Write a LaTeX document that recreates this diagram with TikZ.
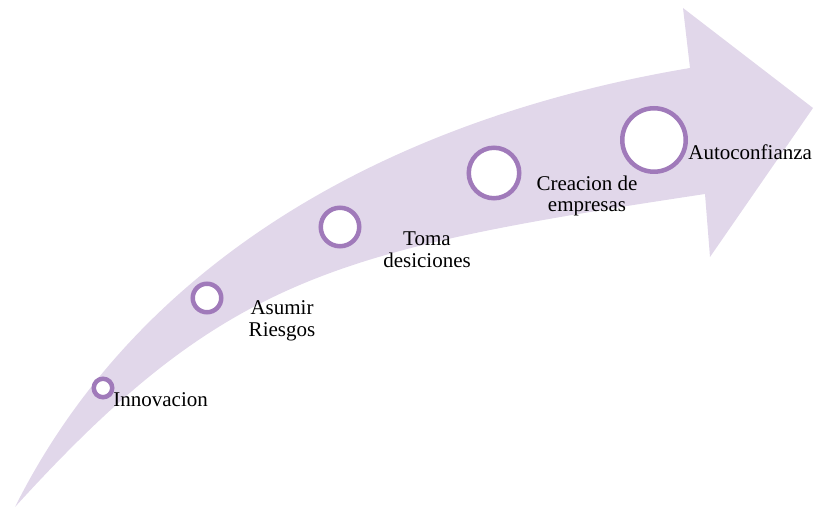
\documentclass[tikz,border=0pt]{standalone}
\usepackage{fontspec}
\setmainfont{Liberation Serif}
\usepackage{tikz}
\definecolor{bandfill}{RGB}{225,215,234}
\definecolor{ringline}{RGB}{160,122,186}

\begin{document}
\begin{tikzpicture}[x=0.5pt, y=-0.5pt,
    ring/.style={shape=circle, draw=ringline, line width=2.25pt, fill=white, inner sep=0pt},
    lbl/.style={align=center, inner sep=0pt, font=\fontsize{10.5}{10.8}\selectfont}]
        \useasboundingbox (0,0) rectangle (815,507);

        \fill[bandfill] (15,507) .. controls (135,267) and (380,120) .. (690,68)
            -- (683,8) -- (813,108) -- (710,257) -- (705,194)
            .. controls (335,250) and (225,276) .. (15,507) -- cycle;

        \node[ring, minimum size=9.25pt] (A1) at (103,388) {};
        \node[lbl, anchor=west] (B1) at (113,400) {Innovacion};
        \node[ring, minimum size=14.25pt] (A2) at (207,298) {};
        \node[lbl] (B2) at (282,321) {Asumir\\Riesgos};
        \node[ring, minimum size=19.25pt] (A3) at (340,227) {};
        \node[lbl] (B3) at (427,250) {Toma\\desiciones};
        \node[ring, minimum size=25.25pt] (A4) at (494,173) {};
        \node[lbl] (B4) at (587,196) {Creacion de\\empresas};
        \node[ring, minimum size=31.75pt] (A5) at (654,140) {};
        \node[lbl, anchor=west] (B5) at (688,152) {Autoconfianza};
    \end{tikzpicture}
\end{document}
